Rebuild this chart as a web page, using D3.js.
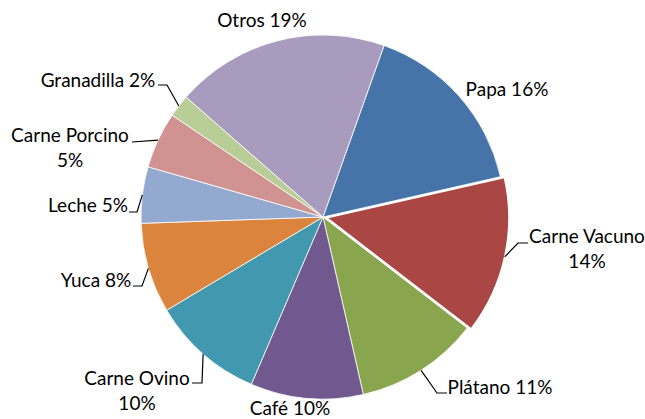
<!DOCTYPE html>
<html>
<head>
<meta charset="utf-8">
<script src="https://cdn.jsdelivr.net/npm/d3@7"></script>
<style>
  body { margin: 0; background: #fff; }
  text { font-family: Lato, "Open Sans", sans-serif; font-size: 19px; fill: #000; }
</style>
</head>
<body>
<div id="chart-area"></div>
<script>
// data
const categories = ["Papa", "Carne Vacuno", "Plátano", "Café", "Carne Ovino", "Yuca", "Leche", "Carne Porcino", "Granadilla", "Otros"];
const values = [16, 14, 11, 10, 10, 8, 5, 5, 2, 19];
const colours = ["#4673A8", "#AA4644", "#89A54E", "#71588F", "#4198AF", "#DB843D", "#93A9CF", "#D19392", "#B9CD96", "#A99BBD"];
const exploded = ["Carne Vacuno"];

const width = 645;
const height = 419;
const cx = 323, cy = 217, radius = 182;
const explodeBy = 4;

// label placement (centre x, baseline y) + leader points from text side
const labelLayout = {
    "Papa": { x: 507, y: 96, lines: ["Papa 16%"] },
    "Carne Vacuno": { x: 587, y: 243, lines: ["Carne Vacuno", "14%"], leader: [[528, 243], [518, 243]] },
    "Plátano": { x: 500, y: 394, lines: ["Plátano 11%"], leader: [[447, 393], [437, 393]] },
    "Café": { x: 290, y: 415, lines: ["Café 10%"] },
    "Carne Ovino": { x: 137, y: 385, lines: ["Carne Ovino", "10%"], leader: [[192, 383], [202, 383]] },
    "Yuca": { x: 96, y: 287, lines: ["Yuca 8%"], leader: [[133, 286], [142, 286]] },
    "Leche": { x: 88, y: 212, lines: ["Leche 5%"], leader: [[129, 212], [137, 212]] },
    "Carne Porcino": { x: 70, y: 142, lines: ["Carne Porcino", "5%"], leader: [[132, 142]] },
    "Granadilla": { x: 98, y: 87, lines: ["Granadilla 2%"], leader: [[158, 85], [167, 85]] },
    "Otros": { x: 262, y: 27, lines: ["Otros 19%"] }
};

const svg = d3.select("#chart-area")
    .append("svg")
    .attr("width", width)
    .attr("height", height);

const g = svg.append("g")
    .attr("transform", "translate(" + cx + ", " + cy + ")");

const start = 19.6 * Math.PI / 180;
const pie = d3.pie().sort(null).value((d) => d.value)
    .startAngle(start).endAngle(start + 2 * Math.PI);
const arc = d3.arc().innerRadius(0).outerRadius(radius);

const data = categories.map((c, i) => ({ name: c, value: values[i], colour: colours[i] }));
const arcs = pie(data);

const offset = (d) => {
    if (exploded.indexOf(d.data.name) < 0) return [0, 0];
    const a = (d.startAngle + d.endAngle) / 2;
    return [explodeBy * Math.sin(a), -explodeBy * Math.cos(a)];
};

g.selectAll("path.slice")
    .data(arcs)
    .enter()
    .append("path")
    .attr("class", "slice")
    .attr("d", arc)
    .attr("transform", (d) => "translate(" + offset(d) + ")")
    .attr("fill", (d) => d.data.colour)
    .attr("stroke", "#fff")
    .attr("stroke-width", (d) => exploded.indexOf(d.data.name) < 0 ? 0.8 : 1.5);

// leader lines
const line = d3.line();
arcs.forEach((d) => {
    const lay = labelLayout[d.data.name];
    if (!lay.leader) return;
    const a = (d.startAngle + d.endAngle) / 2;
    const off = offset(d);
    const edge = [cx + off[0] + radius * Math.sin(a), cy + off[1] - radius * Math.cos(a)];
    svg.append("path")
        .attr("d", line(lay.leader.concat([edge])))
        .attr("fill", "none")
        .attr("stroke", "#000")
        .attr("stroke-width", 1.2);
});

// labels
arcs.forEach((d) => {
    const lay = labelLayout[d.data.name];
    const t = svg.append("text")
        .attr("text-anchor", "middle")
        .attr("x", lay.x)
        .attr("y", lay.y);
    lay.lines.forEach((l, i) => {
        t.append("tspan")
            .attr("x", lay.x)
            .attr("y", lay.y + i * 24.5)
            .text(l);
    });
});
</script>
</body>
</html>
